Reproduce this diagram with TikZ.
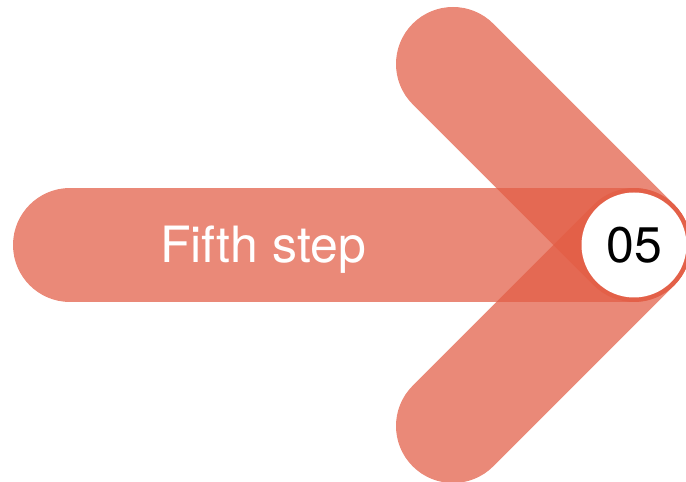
\documentclass[tikz,border=0pt]{standalone}
\usepackage{fontspec}
\setsansfont{TeX Gyre Heros}
\usepackage{tikz}
\usetikzlibrary{calc,positioning}
\definecolor{StepRed}{RGB}{226,92,68}

\begin{document}
\begin{tikzpicture}[x=1pt,y=1pt,
  bar/.style={draw=StepRed,draw opacity=0.72,line width=114pt,line cap=round},
  bigtxt/.style={font=\sffamily\fontsize{50}{60}\selectfont}]
\useasboundingbox (0,0) rectangle (686,482);
\coordinate (l) at (70,237);\coordinate (t) at (453,418);\coordinate (b) at (453,56);\coordinate (c) at (634,237);
\draw[bar] (l)--(c);
\draw[bar] (t)--(c);
\draw[bar] (b)--(c);
\node[circle,fill=white,minimum size=105pt,inner sep=0pt,bigtxt,text=black] (num) at (c) {05};
\node[bigtxt,text=white,anchor=base] (lbl) at (263,219) {Fifth step};
\end{tikzpicture}
\end{document}
